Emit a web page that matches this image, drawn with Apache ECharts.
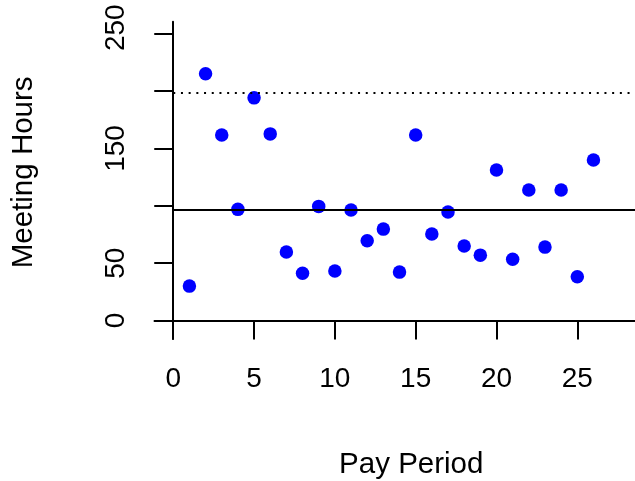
<!DOCTYPE html>
<html>
<head>
<meta charset="utf-8">
<script src="https://cdn.jsdelivr.net/npm/echarts@6/dist/echarts.min.js"></script>
<style>
  html, body { margin: 0; padding: 0; background: #fff; }
  #chart { width: 635px; height: 481px; }
</style>
</head>
<body>
<div id="chart"></div>
<script>
// Meeting hours logged in each pay period
const payPeriods = [1, 2, 3, 4, 5, 6, 7, 8, 9, 10, 11, 12, 13, 14, 15, 16, 17, 18, 19, 20, 21, 22, 23, 24, 25, 26];
const meetingHours = [30.0, 215.1, 161.8, 96.9, 194.1, 162.7, 59.7, 41.3, 99.5, 43.1, 96.3, 69.5, 79.7,
                      42.2, 161.8, 75.4, 94.6, 64.9, 57.0, 131.3, 53.5, 113.8, 64.0, 113.8, 38.1, 140.0];
const xTicks = [0, 5, 10, 15, 20, 25];
const yTicks = [0, 50, 100, 150, 200, 250];
const yLabels = [0, 50, 150, 250];

// centre line (mean) and upper limit (mean + 2 sd)
const n = meetingHours.length;
const mean = meetingHours.reduce((a, b) => a + b, 0) / n;
const sd = Math.sqrt(meetingHours.reduce((a, b) => a + (b - mean) * (b - mean), 0) / (n - 1));
const upper = mean + 2 * sd;

const FONT = "'Liberation Sans', Arial, Helvetica, sans-serif";
const FS = 28;
const FS_NAME = 29.5;
const X_MIN = -1.16, X_MAX = 28.57;
const Y_MIN = -16.1, Y_MAX = 260.5;
const yTop = yLabels[yLabels.length - 1];

const chart = echarts.init(document.getElementById('chart'), null, { renderer: 'canvas' });
chart.setOption({
  animation: false,
  backgroundColor: '#ffffff',
  textStyle: { fontFamily: FONT, color: '#000' },
  grid: { left: 154.5, right: 0, top: 21.7, bottom: 142, containLabel: false, outerBoundsMode: 'none' },
  xAxis: {
    type: 'value',
    min: X_MIN, max: X_MAX,
    name: 'Pay Period',
    nameLocation: 'middle',
    nameGap: 111,
    nameTextStyle: { fontFamily: FONT, fontSize: FS_NAME, color: '#000', padding: [0, 0, 0, 33] },
    axisLine: { onZero: true, lineStyle: { color: '#000', width: 2 } },
    axisTick: { show: true, length: 19, customValues: xTicks, lineStyle: { color: '#000', width: 2 } },
    axisLabel: { customValues: xTicks, margin: 26, fontFamily: FONT, fontSize: FS, color: '#000' },
    splitLine: { show: false }
  },
  yAxis: {
    type: 'value',
    min: Y_MIN, max: Y_MAX,
    name: 'Meeting Hours',
    nameLocation: 'middle',
    nameRotate: 90,
    nameGap: 116,
    nameTextStyle: { fontFamily: FONT, fontSize: FS_NAME, color: '#000', padding: [0, 0, 0, 16] },
    axisLine: { onZero: true, lineStyle: { color: '#000', width: 2 } },
    axisTick: { show: true, length: 19, customValues: yTicks, lineStyle: { color: '#000', width: 2 } },
    axisLabel: {
      customValues: yLabels, rotate: 90, margin: 24, fontFamily: FONT, fontSize: FS, color: '#000',
      // the topmost label sits a little above its tick
      formatter: v => (v === yTop ? '{top|' + v + '}' : String(v)),
      rich: { top: { fontFamily: FONT, fontSize: FS, color: '#000', padding: [0, 0, 0, 12] } }
    },
    splitLine: { show: false }
  },
  series: [{
    type: 'scatter',
    data: payPeriods.map((p, i) => [p, meetingHours[i]]),
    symbol: 'circle',
    symbolSize: 13.5,
    itemStyle: { color: '#0000ff', opacity: 1 },
    z: 3,
    markLine: {
      silent: true,
      symbol: 'none',
      label: { show: false },
      animation: false,
      data: [
        [{ coord: [0, mean], lineStyle: { color: '#000', width: 2, type: 'solid' } }, { coord: [X_MAX, mean] }],
        [{ coord: [0, upper], lineStyle: { color: '#000', width: 2, type: [2, 5.7], cap: 'butt' } }, { coord: [X_MAX, upper] }]
      ]
    }
  }]
});
</script>
</body>
</html>
